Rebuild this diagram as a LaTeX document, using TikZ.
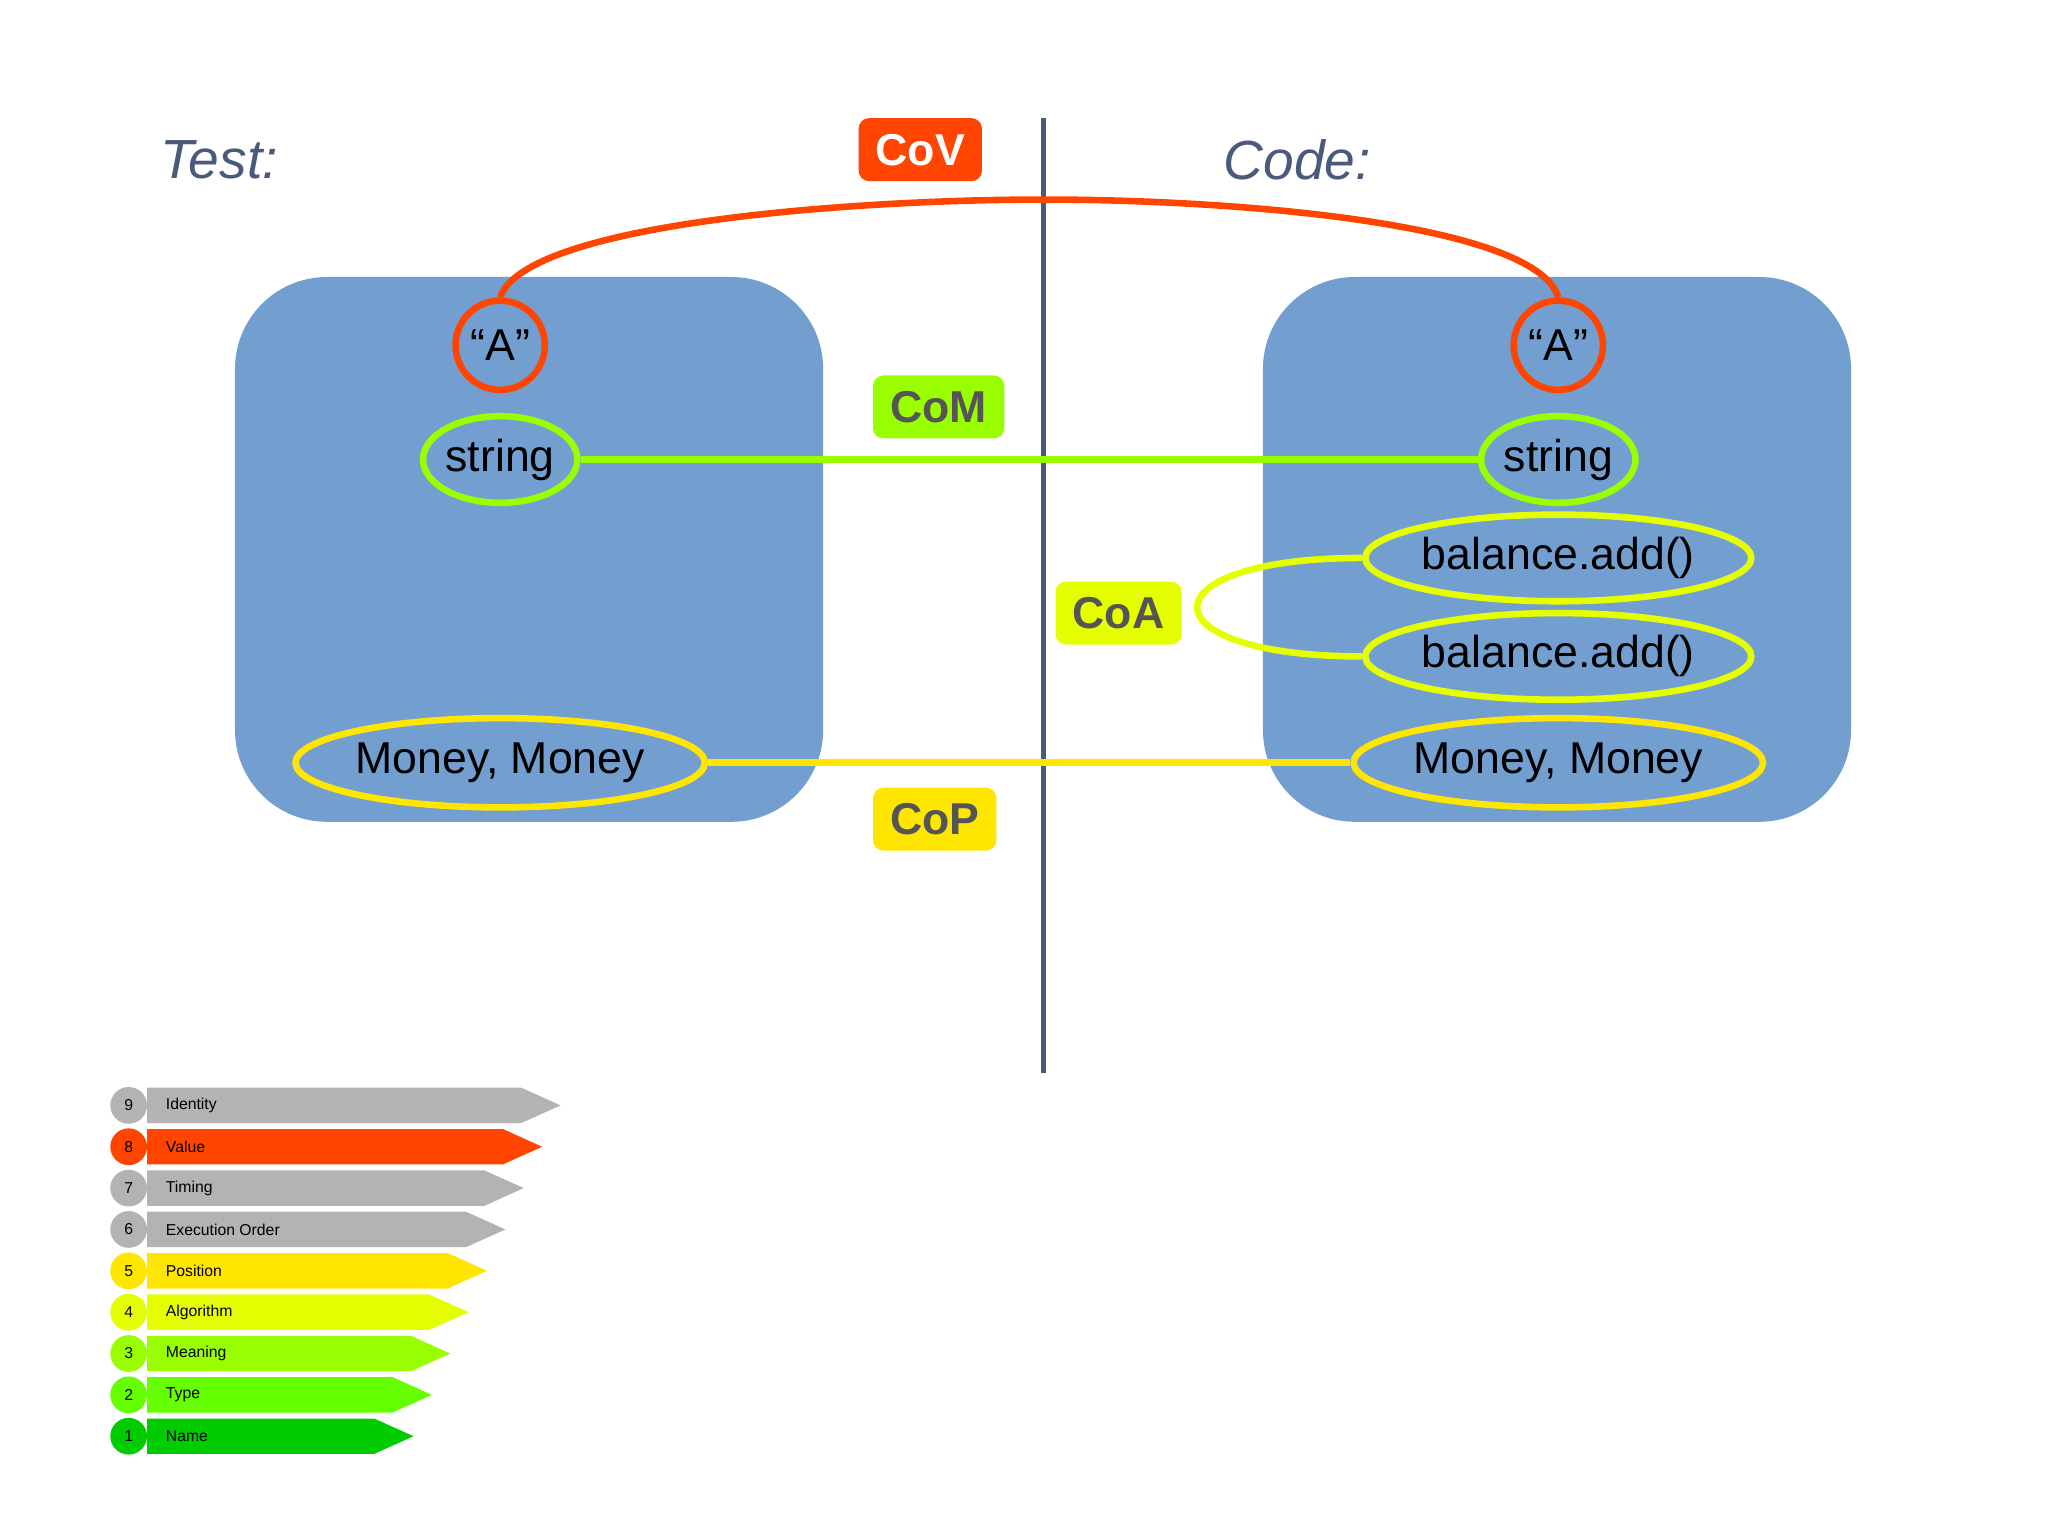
\documentclass[tikz,border=0pt]{standalone}
\usepackage{fontspec}
\setmainfont{Liberation Sans}
\usetikzlibrary{shapes.geometric}
\definecolor{boxblue}{RGB}{114,159,207}
\definecolor{navy}{RGB}{74,90,122}
\definecolor{cred}{RGB}{255,69,0}
\definecolor{cgreen}{RGB}{153,255,0}
\definecolor{cyel}{RGB}{230,255,0}
\definecolor{cpos}{RGB}{255,230,0}
\definecolor{cgray}{RGB}{179,179,179}
\definecolor{ctype}{RGB}{102,255,0}
\definecolor{cname}{RGB}{0,204,0}
\definecolor{dtext}{RGB}{85,85,85}
\begin{document}
\begin{tikzpicture}[x=0.5pt,y=-0.5pt,
  tag/.style={rounded corners=4pt,inner sep=0pt,minimum width=46pt,minimum height=24pt,font=\fontsize{17}{17}\selectfont\bfseries},
  elt/.style={ellipse,line width=2.5pt,inner sep=0pt,font=\fontsize{17}{17}\selectfont},
  ttl/.style={font=\fontsize{21}{21}\selectfont\itshape,text=navy,anchor=west}]
\useasboundingbox (0,0) rectangle (1560,1170);
\fill[boxblue] (179,211) [rounded corners=35pt] rectangle (627,626);
\fill[boxblue] (962,211) [rounded corners=35pt] rectangle (1410,626);
\coordinate (vt) at (795,90); \coordinate (vb) at (795,817);
\draw[navy,line width=2pt] (vt) -- (vb);
\node[ttl] (test) at (115,122) {Test:};
\node[ttl] (code) at (925,122) {Code:};
\node[tag,fill=cred,text=white,minimum width=47pt] (cov) at (701,114) {CoV};
\node[tag,fill=cgreen,text=dtext,minimum width=50pt] (com) at (715,310) {CoM};
\node[tag,fill=cyel,text=dtext,minimum width=48pt] (coa) at (852,467) {CoA};
\node[tag,fill=cpos,text=dtext,minimum width=47pt] (cop) at (712,624) {CoP};
\node[elt,draw=cred,minimum width=34pt,minimum height=34pt] (a1) at (381,263) {“A”};
\node[elt,draw=cred,minimum width=34pt,minimum height=34pt] (a2) at (1187,263) {“A”};
\node[elt,draw=cgreen,minimum width=58pt,minimum height=33pt] (s1) at (381,350) {string};
\node[elt,draw=cgreen,minimum width=58pt,minimum height=33pt] (s2) at (1187,350) {string};
\node[elt,draw=cyel,minimum width=135pt,minimum height=33pt] (b1) at (1187,425) {balance.add()};
\node[elt,draw=cyel,minimum width=135pt,minimum height=33pt] (b2) at (1187,500) {balance.add()};
\node[elt,draw=cpos,minimum width=130pt,minimum height=34pt] (m1) at (381,581) {Money, Money};
\node[elt,draw=cpos,minimum width=130pt,minimum height=34pt] (m2) at (1187,581) {Money, Money};
\draw[cred,line width=2.5pt] (a1.north) .. controls (400,170) and (650,152) .. (795,152) .. controls (940,152) and (1170,170) .. (a2.north);
\draw[cgreen,line width=2.5pt] (s1.east) -- (s2.west);
\draw[cyel,line width=2.5pt] (b1.west) .. controls (870,425) and (870,500) .. (b2.west);
\draw[cpos,line width=2.5pt] (m1.east) -- (m2.west);
% legend
\foreach \n/\lab/\col/\tip [count=\i from 0] in {9/Identity/cgray/427,8/Value/cred/413,7/Timing/cgray/399,6/Execution Order/cgray/385,5/Position/cpos/371,4/Algorithm/cyel/357,3/Meaning/cgreen/343,2/Type/ctype/329,1/Name/cname/315}{
  \pgfmathsetmacro\yy{842+31.5*\i}
  \fill[\col] (112,\yy-13.5) -- (\tip-30,\yy-13.5) -- (\tip,\yy) -- (\tip-30,\yy+13.5) -- (112,\yy+13.5) -- cycle;
  \node[circle,fill=\col,minimum size=14pt,inner sep=0pt,font=\fontsize{6}{6}\selectfont] (c\n) at (98,\yy) {\n};
  \node[anchor=west,inner sep=0pt,font=\fontsize{6}{6}\selectfont] (l\n) at (126,\yy) {\lab};
}
\end{tikzpicture}
\end{document}
